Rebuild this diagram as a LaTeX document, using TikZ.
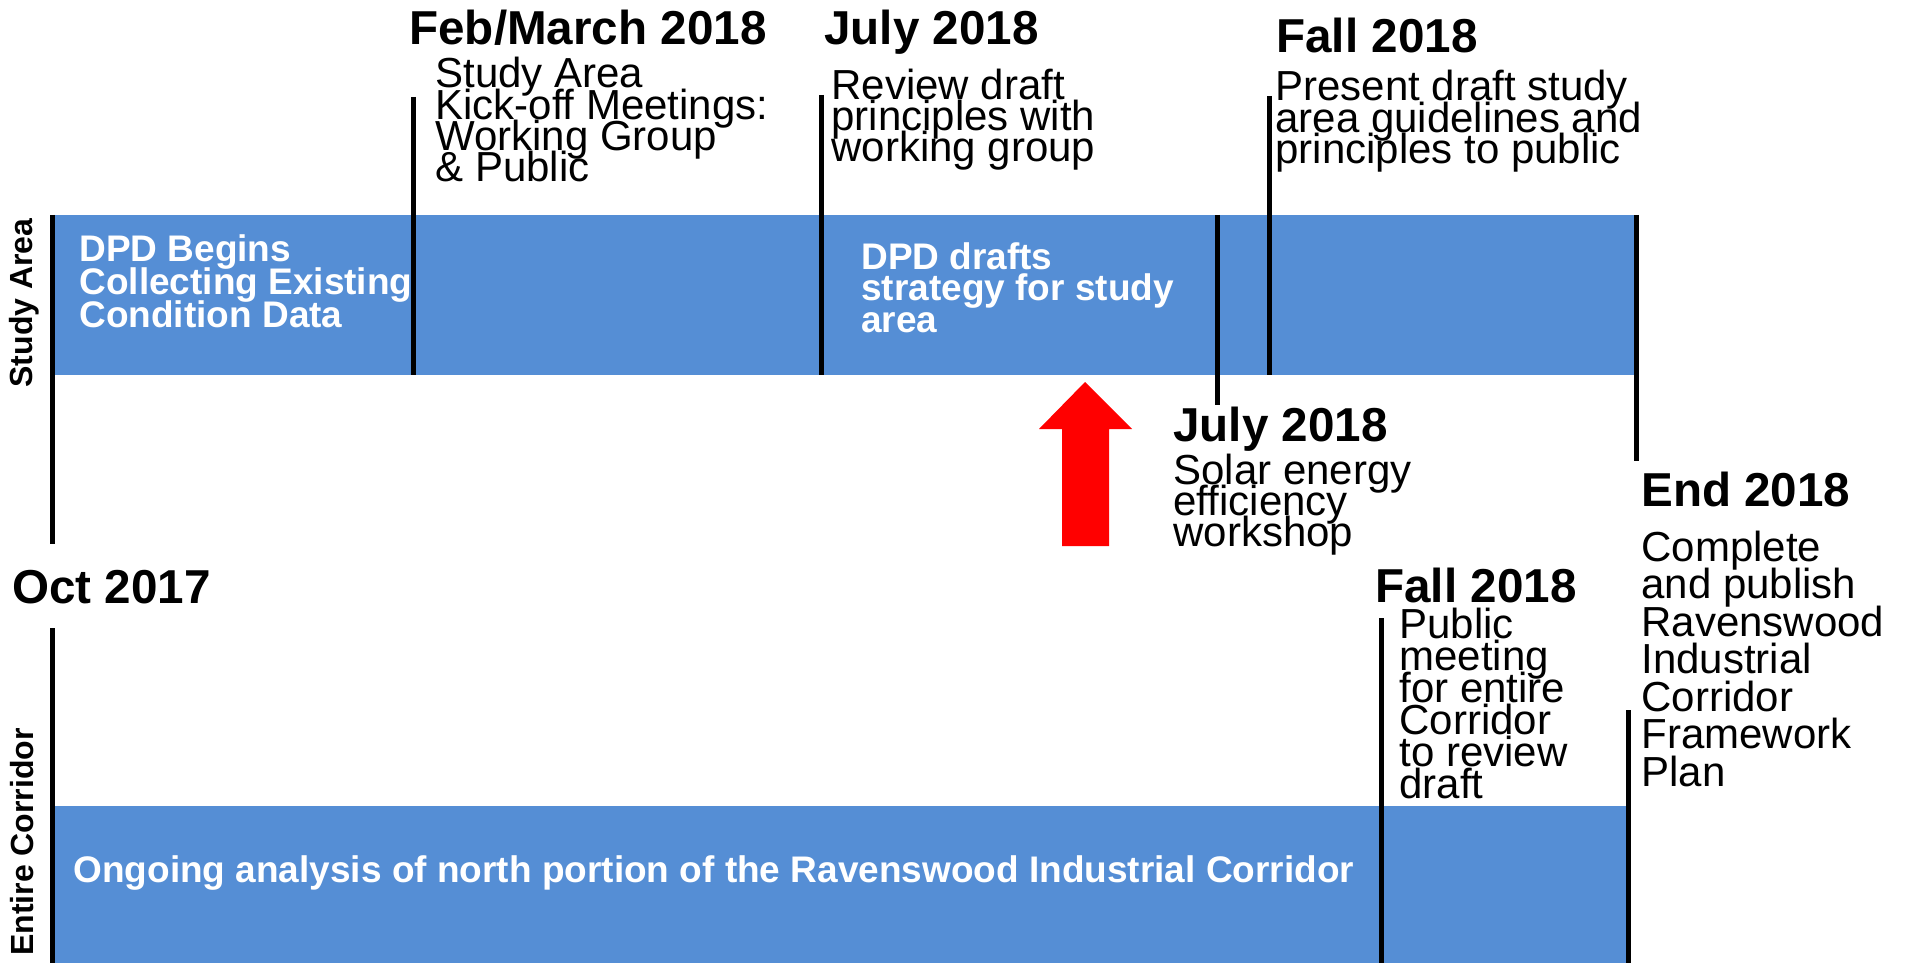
\documentclass[tikz,border=0pt]{standalone}
\usepackage{fontspec}
\setmainfont{Liberation Sans}
\definecolor{bandblue}{HTML}{558ED5}
\tikzset{
  band/.style={fill=bandblue, draw=none},
  marker/.style={line width=2.5pt},
  datehead/.style={anchor=base west, inner sep=0pt, font=\fontsize{23.8}{26}\selectfont\bfseries},
  note/.style={anchor=base west, inner sep=0pt, align=left, font={\fontsize{21}{#1}\selectfont\setlength{\lineskiplimit}{-50pt}}},
  bandtext/.style={anchor=base west, inner sep=0pt, align=left, text=white, font={\fontsize{18.5}{#1}\selectfont\bfseries\setlength{\lineskiplimit}{-50pt}}},
  sidelabel/.style={rotate=90, inner sep=0pt, font=\fontsize{16}{18}\selectfont\bfseries}
}
\begin{document}
\begin{tikzpicture}[x=0.5pt, y=-0.5pt]
\useasboundingbox (0,0) rectangle (1908,963);
% bands
\fill[band] (52,215) rectangle (1637,375);
\fill[band] (52,806) rectangle (1627,963);
% markers
\draw[marker] (52,215) -- (52,544);
\draw[marker] (413,97) -- (413,375);
\draw[marker] (821,95) -- (821,375);
\draw[marker] (1217,215) -- (1217,405);
\draw[marker] (1269,96) -- (1269,375);
\draw[marker] (1636,215) -- (1636,461);
\draw[marker] (52,628) -- (52,963);
\draw[marker] (1381,618) -- (1381,963);
\draw[marker] (1628,710) -- (1628,963);
% red arrow
\fill[red] (1085,382) -- (1132,429) -- (1109,429) -- (1109,546) -- (1062,546) -- (1062,429) -- (1039,429) -- cycle;
% side labels
\node[sidelabel] (studylbl) at (24,303) {Study Area};
\node[sidelabel] (corridorlbl) at (22,842) {Entire Corridor};
% dates
\node[datehead] (febdate) at (409,45) {Feb/March 2018};
\node[datehead] (julydate) at (824,45) {July 2018};
\node[datehead] (falldate) at (1276,53) {Fall 2018};
\node[datehead] (solardate) at (1173,441) {July 2018};
\node[datehead] (enddate) at (1641,506) {End 2018};
\node[datehead] (octdate) at (12,603) {Oct 2017};
\node[datehead] (publicdate) at (1375,602) {Fall 2018};
% notes (placed at the baseline of their last line)
\node[note=15.75] (kickoff) at (435,182) {Study Area\\Kick-off Meetings:\\Working Group\\\& Public};
\node[note=15.5] (review) at (831,162) {Review draft\\principles with\\working group};
\node[note=16] (present) at (1275,164) {Present draft study\\area guidelines and\\principles to public};
\node[note=15.5] (solar) at (1173,546) {Solar energy\\efficiency\\workshop};
\node[note=18.75] (publish) at (1641,786) {Complete\\and publish\\Ravenswood\\Industrial\\Corridor\\Framework\\Plan};
\node[note=16] (public) at (1399,798) {Public\\meeting\\for entire\\Corridor\\to review\\draft};
% band texts
\node[bandtext=16.25] (dpdbegins) at (79,327) {DPD Begins\\Collecting Existing\\Condition Data};
\node[bandtext=15.75] (dpddrafts) at (861,332) {DPD drafts\\strategy for study\\area};
\node[bandtext=16] (ongoing) at (73,882) {Ongoing analysis of north portion of the Ravenswood Industrial Corridor};
\end{tikzpicture}
\end{document}
